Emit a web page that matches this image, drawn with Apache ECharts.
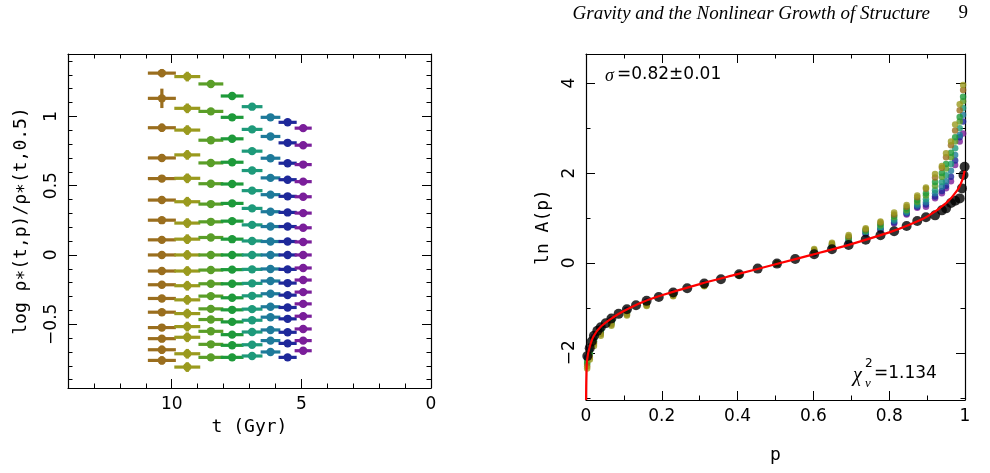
<!DOCTYPE html>
<html>
<head>
<meta charset="utf-8">
<script src="https://cdn.jsdelivr.net/npm/echarts@6/dist/echarts.min.js"></script>
<style>html,body{margin:0;padding:0;background:#fff}#main{width:990px;height:473px}</style>
</head>
<body>
<div id="main"></div>
<script>
// ---- left panel: density ratio vs time ----
var times = [10.38, 9.40, 8.49, 7.67, 6.90, 6.19, 5.53, 4.93];
var halfWidths = [0.54, 0.50, 0.48, 0.44, 0.40, 0.38, 0.35, 0.33];
var colColors = ['#9a6e1e', '#9a9a1e', '#5a9e28', '#1e9a3a', '#1e9a7a', '#1e7a9a', '#1e289a', '#7a1e9a'];
var col1 = [1.312, 1.130, 0.918, 0.700, 0.551, 0.396, 0.251, 0.109, 0, -0.116, -0.215, -0.314, -0.413, -0.524, -0.604, -0.684, -0.761];
var col2 = [1.287, 1.058, 0.901, 0.722, 0.553, 0.384, 0.230, 0.114, 0, -0.116, -0.222, -0.324, -0.423, -0.517, -0.594, -0.713, -0.809];
var col3 = [1.234, 1.036, 0.828, 0.664, 0.514, 0.367, 0.239, 0.126, 0, -0.109, -0.208, -0.297, -0.389, -0.466, -0.551, -0.645, -0.739];
var col4 = [1.147, 0.993, 0.838, 0.669, 0.512, 0.372, 0.244, 0.114, 0, -0.106, -0.208, -0.309, -0.396, -0.483, -0.575, -0.652, -0.739];
var col5 = [1.070, 0.906, 0.749, 0.609, 0.464, 0.336, 0.217, 0.101, 0, -0.104, -0.205, -0.295, -0.391, -0.471, -0.556, -0.648, -0.729];
var col6 = [0.993, 0.855, 0.698, 0.556, 0.435, 0.312, 0.205, 0.097, 0, -0.101, -0.188, -0.280, -0.374, -0.449, -0.541, -0.618, -0.700];
var col7 = [0.957, 0.809, 0.662, 0.543, 0.423, 0.307, 0.205, 0.097, 0, -0.104, -0.203, -0.290, -0.379, -0.461, -0.558, -0.638, -0.739];
var col8 = [0.915, 0.792, 0.652, 0.529, 0.420, 0.302, 0.196, 0.094, 0, -0.094, -0.181, -0.268, -0.353, -0.442, -0.534, -0.618, -0.691];
var yErrCols = [0.03, 0.035, 0.02, 0.02, 0.02, 0.02, 0.02, 0.02];
var yErrCol1 = [0.03, 0.07, 0.03, 0.025, 0.025, 0.02, 0.02, 0.015, 0.015, 0.015, 0.015, 0.015, 0.02, 0.025, 0.025, 0.03, 0.03];
var leftXMajor = [0, 5, 10];
var leftXMinor = [0, 1, 2, 3, 4, 5, 6, 7, 8, 9, 10, 11, 12, 13, 14];
var leftYMajor = [-0.5, 0, 0.5, 1];
var leftYMinor = [-0.9, -0.8, -0.7, -0.6, -0.5, -0.4, -0.3, -0.2, -0.1, 0, 0.1, 0.2, 0.3, 0.4, 0.5, 0.6, 0.7, 0.8, 0.9, 1.0, 1.1, 1.2, 1.3, 1.4];

// ---- right panel: ln A(p) ----
var pBlack = [0.0035, 0.0098, 0.015, 0.021, 0.030, 0.039, 0.052, 0.067, 0.086, 0.108, 0.132, 0.160, 0.192, 0.230, 0.267, 0.312, 0.356, 0.404, 0.453, 0.504, 0.552, 0.602, 0.649, 0.693, 0.738, 0.777, 0.813, 0.846, 0.874, 0.897, 0.921, 0.939, 0.950, 0.963, 0.974, 0.986, 0.992, 0.996, 0.999];
var lnABlack = [-2.07, -1.896, -1.748, -1.622, -1.511, -1.430, -1.341, -1.237, -1.133, -1.030, -0.941, -0.844, -0.756, -0.659, -0.563, -0.459, -0.363, -0.252, -0.126, -0.015, 0.089, 0.193, 0.304, 0.400, 0.519, 0.615, 0.704, 0.822, 0.933, 1.015, 1.059, 1.170, 1.215, 1.333, 1.385, 1.437, 1.659, 1.956, 2.141];
var pColor = [0.003, 0.01, 0.021, 0.039, 0.067, 0.108, 0.16, 0.23, 0.312, 0.404, 0.504, 0.602, 0.649, 0.693, 0.738, 0.777, 0.813, 0.846, 0.874, 0.897, 0.921, 0.939, 0.950, 0.963, 0.974, 0.986, 0.995];
var lnA1 = [-2.30, -2.10, -1.80, -1.58, -1.37, -1.15, -0.94, -0.73, -0.51, -0.27, -0.01, 0.29, 0.43, 0.59, 0.75, 0.90, 1.08, 1.25, 1.46, 1.65, 1.90, 2.12, 2.35, 2.62, 2.95, 3.40, 3.85];
var lnA2 = [-2.35, -2.15, -1.85, -1.62, -1.40, -1.17, -0.96, -0.74, -0.52, -0.28, -0.01, 0.31, 0.45, 0.62, 0.77, 0.92, 1.12, 1.29, 1.50, 1.68, 1.98, 2.16, 2.44, 2.70, 3.08, 3.53, 3.96];
var lnA3 = [-2.22, -2.02, -1.74, -1.53, -1.32, -1.10, -0.91, -0.70, -0.49, -0.26, -0.01, 0.26, 0.40, 0.55, 0.72, 0.84, 1.02, 1.18, 1.36, 1.50, 1.72, 1.92, 2.10, 2.35, 2.70, 3.15, 3.60];
var lnA4 = [-2.25, -2.05, -1.76, -1.55, -1.34, -1.12, -0.92, -0.71, -0.50, -0.27, -0.01, 0.27, 0.41, 0.57, 0.73, 0.86, 1.05, 1.21, 1.40, 1.55, 1.80, 2.00, 2.20, 2.45, 2.80, 3.25, 3.70];
var lnA5 = [-2.18, -1.98, -1.70, -1.50, -1.30, -1.08, -0.89, -0.69, -0.48, -0.26, -0.02, 0.24, 0.38, 0.52, 0.70, 0.80, 0.97, 1.15, 1.32, 1.42, 1.62, 1.80, 1.95, 2.20, 2.55, 3.00, 3.45];
var lnA6 = [-2.15, -1.96, -1.68, -1.48, -1.28, -1.06, -0.88, -0.68, -0.48, -0.26, -0.02, 0.23, 0.36, 0.50, 0.68, 0.77, 0.94, 1.12, 1.28, 1.35, 1.55, 1.70, 1.82, 2.05, 2.40, 2.85, 3.30];
var lnA7 = [-2.12, -1.94, -1.66, -1.46, -1.27, -1.05, -0.87, -0.67, -0.47, -0.26, -0.02, 0.22, 0.35, 0.48, 0.66, 0.75, 0.90, 1.10, 1.25, 1.30, 1.48, 1.60, 1.72, 1.92, 2.28, 2.80, 3.15];
var lnA8 = [-2.10, -1.92, -1.64, -1.45, -1.26, -1.04, -0.86, -0.67, -0.47, -0.26, -0.02, 0.21, 0.34, 0.46, 0.64, 0.73, 0.88, 1.08, 1.23, 1.25, 1.44, 1.55, 1.66, 1.82, 2.18, 2.70, 2.88];
var pFit = [0.0002, 0.001, 0.003, 0.01, 0.02, 0.04, 0.07, 0.1, 0.15, 0.2, 0.3, 0.4, 0.5, 0.6, 0.7, 0.8, 0.85, 0.9, 0.95, 0.98, 0.993, 0.999];
var lnAFit = [-3.05, -2.55, -2.15, -1.86, -1.63, -1.41, -1.22, -1.07, -0.87, -0.72, -0.47, -0.25, -0.03, 0.19, 0.42, 0.68, 0.84, 1.03, 1.33, 1.62, 1.85, 2.05];
var rightXMajor = [0, 0.2, 0.4, 0.6, 0.8, 1];
var rightXMinor = [0, 0.1, 0.2, 0.3, 0.4, 0.5, 0.6, 0.7, 0.8, 0.9, 1];
var rightYMajor = [-2, 0, 2, 4];
var rightYMinor = [-3, -2, -1, 0, 1, 2, 3, 4];

var FONT = 'DejaVu Sans';
function fmt(v) { return String(v).replace('-', '\u2212'); }

// four axes per direction: major+labels / minor on both sides
function axesFor(dim, grid, min, max, major, minor, inverse, name, nameGap, rot) {
  var sides = dim === 'x' ? ['bottom', 'top'] : ['left', 'right'];
  var out = [];
  sides.forEach(function (pos, s) {
    [major, minor].forEach(function (vals, k) {
      out.push({
        type: 'value', gridIndex: grid, position: pos, min: min, max: max, inverse: inverse,
        name: (s === 0 && k === 0) ? name : '', nameLocation: 'middle', nameGap: nameGap,
        nameTextStyle: { fontFamily: 'DejaVu Sans Mono', fontSize: 18, color: '#000' },
        splitLine: { show: false },
        axisLine: { show: k === 0, onZero: false, lineStyle: { color: '#000', width: 1.2 } },
        axisTick: { show: true, inside: true, length: k === 0 ? 9 : 4.5, customValues: vals, lineStyle: { color: '#000', width: 1 } },
        axisLabel: { show: s === 0 && k === 0, customValues: vals, formatter: fmt, rotate: rot, margin: 8,
          fontFamily: FONT, fontSize: 17, color: '#000' }
      });
    });
  });
  return out;
}

var xAxes = axesFor('x', 0, 0, 14, leftXMajor, leftXMinor, true, 't (Gyr)', 30, 0)
  .concat(axesFor('x', 1, 0, 1, rightXMajor, rightXMinor, false, 'p', 46, 0));
var yAxes = axesFor('y', 0, -0.96, 1.45, leftYMajor, leftYMinor, false, 'log \u03c1\u2217(t,p)/\u03c1\u2217(t,0.5)', 38, 90)
  .concat(axesFor('y', 1, -3.05, 4.65, rightYMajor, rightYMinor, false, 'ln A(p)', 34, 90));

var leftCols = [col1, col2, col3, col4, col5, col6, col7, col8];
var series = [];
leftCols.forEach(function (col, i) {
  var data = col.map(function (v, r) {
    var dy = i === 0 ? yErrCol1[r] : yErrCols[i];
    return [times[i], v, halfWidths[i], dy];
  });
  series.push({
    type: 'custom', xAxisIndex: 0, yAxisIndex: 0, data: data, silent: true,
    renderItem: function (params, api) {
      var t = api.value(0), v = api.value(1), dx = api.value(2), dy = api.value(3);
      var a = api.coord([t - dx, v]), b = api.coord([t + dx, v]);
      var c = api.coord([t, v - dy]), d = api.coord([t, v + dy]), m = api.coord([t, v]);
      var st = { stroke: colColors[i], lineWidth: 3.2 };
      return { type: 'group', children: [
        { type: 'line', shape: { x1: a[0], y1: a[1], x2: b[0], y2: b[1] }, style: st },
        { type: 'line', shape: { x1: c[0], y1: c[1], x2: d[0], y2: d[1] }, style: st },
        { type: 'circle', shape: { cx: m[0], cy: m[1], r: 4.2 }, style: { fill: colColors[i] } }
      ] };
    }
  });
});

var rightCols = [lnA1, lnA2, lnA3, lnA4, lnA5, lnA6, lnA7, lnA8];
var drawOrder = [7, 6, 5, 4, 2, 3, 0, 1];
drawOrder.forEach(function (i) {
  series.push({
    type: 'scatter', xAxisIndex: 4, yAxisIndex: 4, symbolSize: 6.5, silent: true,
    itemStyle: { color: colColors[i] },
    data: pColor.map(function (p, k) { return [p, rightCols[i][k]]; })
  });
});
series.push({
  type: 'line', xAxisIndex: 4, yAxisIndex: 4, symbol: 'none', smooth: 0.3, silent: true,
  lineStyle: { color: '#ff0000', width: 2.2 },
  data: pFit.map(function (p, k) { return [p, lnAFit[k]]; })
});
series.push({
  type: 'scatter', xAxisIndex: 4, yAxisIndex: 4, symbolSize: 10, silent: true,
  itemStyle: { color: '#000' },
  data: pBlack.map(function (p, k) { return [p, lnABlack[k]]; })
});

var chart = echarts.init(document.getElementById('main'));
chart.setOption({
  animation: false,
  grid: [
    { left: 68, right: 559, top: 54, bottom: 85 },
    { left: 586, right: 25, top: 54, bottom: 73 }
  ],
  xAxis: xAxes,
  yAxis: yAxes,
  series: series,
  graphic: [
    { type: 'text', right: 60, top: 4, style: { text: 'Gravity and the Nonlinear Growth of Structure', font: 'italic 19px "Liberation Serif"', fill: '#000' } },
    { type: 'text', right: 22, top: 4, style: { text: '9', font: '19px "Liberation Serif"', fill: '#000' } },
    { type: 'text', left: 605, top: 67, style: { text: '\u03c3', font: 'italic 18px "Liberation Serif"', fill: '#000' } },
    { type: 'text', left: 617, top: 66, style: { text: '=0.82\u00b10.01', font: '17px "DejaVu Sans"', fill: '#000' } },
    { type: 'text', left: 853, top: 366, style: { text: '\u03c7', font: 'italic 20px "Liberation Serif"', fill: '#000' } },
    { type: 'text', left: 865, top: 358, style: { text: '2', font: '12px "DejaVu Sans"', fill: '#000' } },
    { type: 'text', left: 865, top: 377, style: { text: '\u03bd', font: 'italic 13px "Liberation Serif"', fill: '#000' } },
    { type: 'text', left: 874, top: 365, style: { text: '=1.134', font: '17px "DejaVu Sans"', fill: '#000' } }
  ]
});
</script>
</body>
</html>
